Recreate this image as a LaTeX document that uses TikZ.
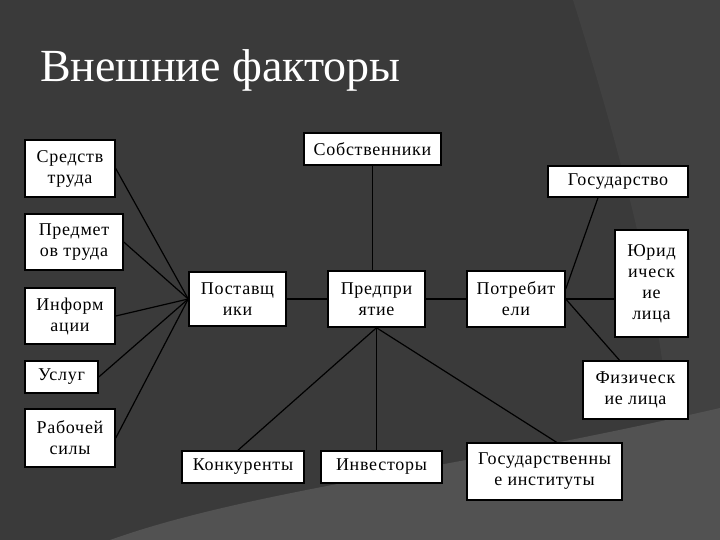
\documentclass[tikz,border=0pt]{standalone}
\usepackage{fontspec}
\setmainfont{Liberation Serif}
\newfontfamily\boxfont[LetterSpace=4]{Liberation Serif}
\definecolor{bgbase}{HTML}{3A3A3A}
\definecolor{bgwedge}{HTML}{414141}
\definecolor{bglow}{HTML}{525252}
\begin{document}
\begin{tikzpicture}[x=1pt,y=-1pt,
  box/.style={draw=black, line width=1.5pt, fill=white, inner sep=0pt, align=center,
    font=\boxfont\fontsize{18}{21}\selectfont},
  link/.style={draw=black, line width=1.2pt}]
\useasboundingbox (0,0) rectangle (720,540);
\fill[bgbase] (0,0) rectangle (720,540);
\fill[bgwedge] (573,0) .. controls (620,150) and (660,300) .. (670,430) -- (720,430) -- (720,0) -- cycle;
\fill[bglow] (110,540) .. controls (250,490) and (450,470) .. (720,408) -- (720,540) -- cycle;
\node[anchor=base west, text=white, inner sep=0pt, font=\fontsize{46}{54}\selectfont] (title) at (40,82) {Внешние факторы};
% left column
\node[box, minimum width=90pt, minimum height=57pt] (sred) at (70,168.5) {Средств\\труда};
\node[box, minimum width=98pt, minimum height=56pt] (predm) at (74,242) {Предмет\\ов труда};
\node[box, minimum width=90pt, minimum height=56pt] (inform) at (70,316) {Информ\\ации};
\node[box, minimum width=73pt, minimum height=32pt] (uslug) at (61.5,377) {Услуг};
\node[box, minimum width=90pt, minimum height=58pt] (rab) at (70,438) {Рабочей\\силы};
% centre row
\node[box, minimum width=97pt, minimum height=54pt] (post) at (237.5,299) {Поставщ\\ики};
\node[box, minimum width=137pt, minimum height=32pt] (sobst) at (372.5,149) {Собственники};
\node[box, minimum width=97pt, minimum height=56pt] (pred) at (376.5,299) {Предпри\\ятие};
\node[box, minimum width=98pt, minimum height=56pt] (potr) at (516,299) {Потребит\\ели};
% right column
\node[box, minimum width=140pt, minimum height=31pt] (gos) at (618,181.5) {Государство};
\node[box, minimum width=73pt, minimum height=107pt] (yur) at (651.5,283.5) {Юрид\\ическ\\ие\\лица};
\node[box, minimum width=105pt, minimum height=58pt] (fiz) at (635.5,390) {Физическ\\ие лица};
% bottom row
\node[box, minimum width=122pt, minimum height=32pt] (konk) at (243,467) {Конкуренты};
\node[box, minimum width=121pt, minimum height=32pt] (inv) at (381.5,467) {Инвесторы};
\node[box, minimum width=155pt, minimum height=57pt] (gosinst) at (544.5,471.5) {Государственны\\е институты};
% connectors
\foreach \n in {sred,predm,inform,uslug,rab}
  \draw[link] (\n.east) -- (post.west);
\draw[link] (post.east) -- (pred.west);
\draw[link] (pred.east) -- (potr.west);
\draw[link] (potr.east) -- (potr.east -| yur.west);
\draw[link] (sobst.south) -- (sobst.south |- pred.north);
\draw[link] (pred.south) -- (pred.south |- inv.north);
\draw[link] (pred.south) -- ([xshift=-5pt]konk.north);
\draw[link] (pred.south) -- ([xshift=12pt]gosinst.north);
\draw[link] ([yshift=10pt]potr.east) -- ([xshift=-20pt]gos.south);
\draw[link] (potr.east) -- ([xshift=-16pt]fiz.north);
\end{tikzpicture}
\end{document}
